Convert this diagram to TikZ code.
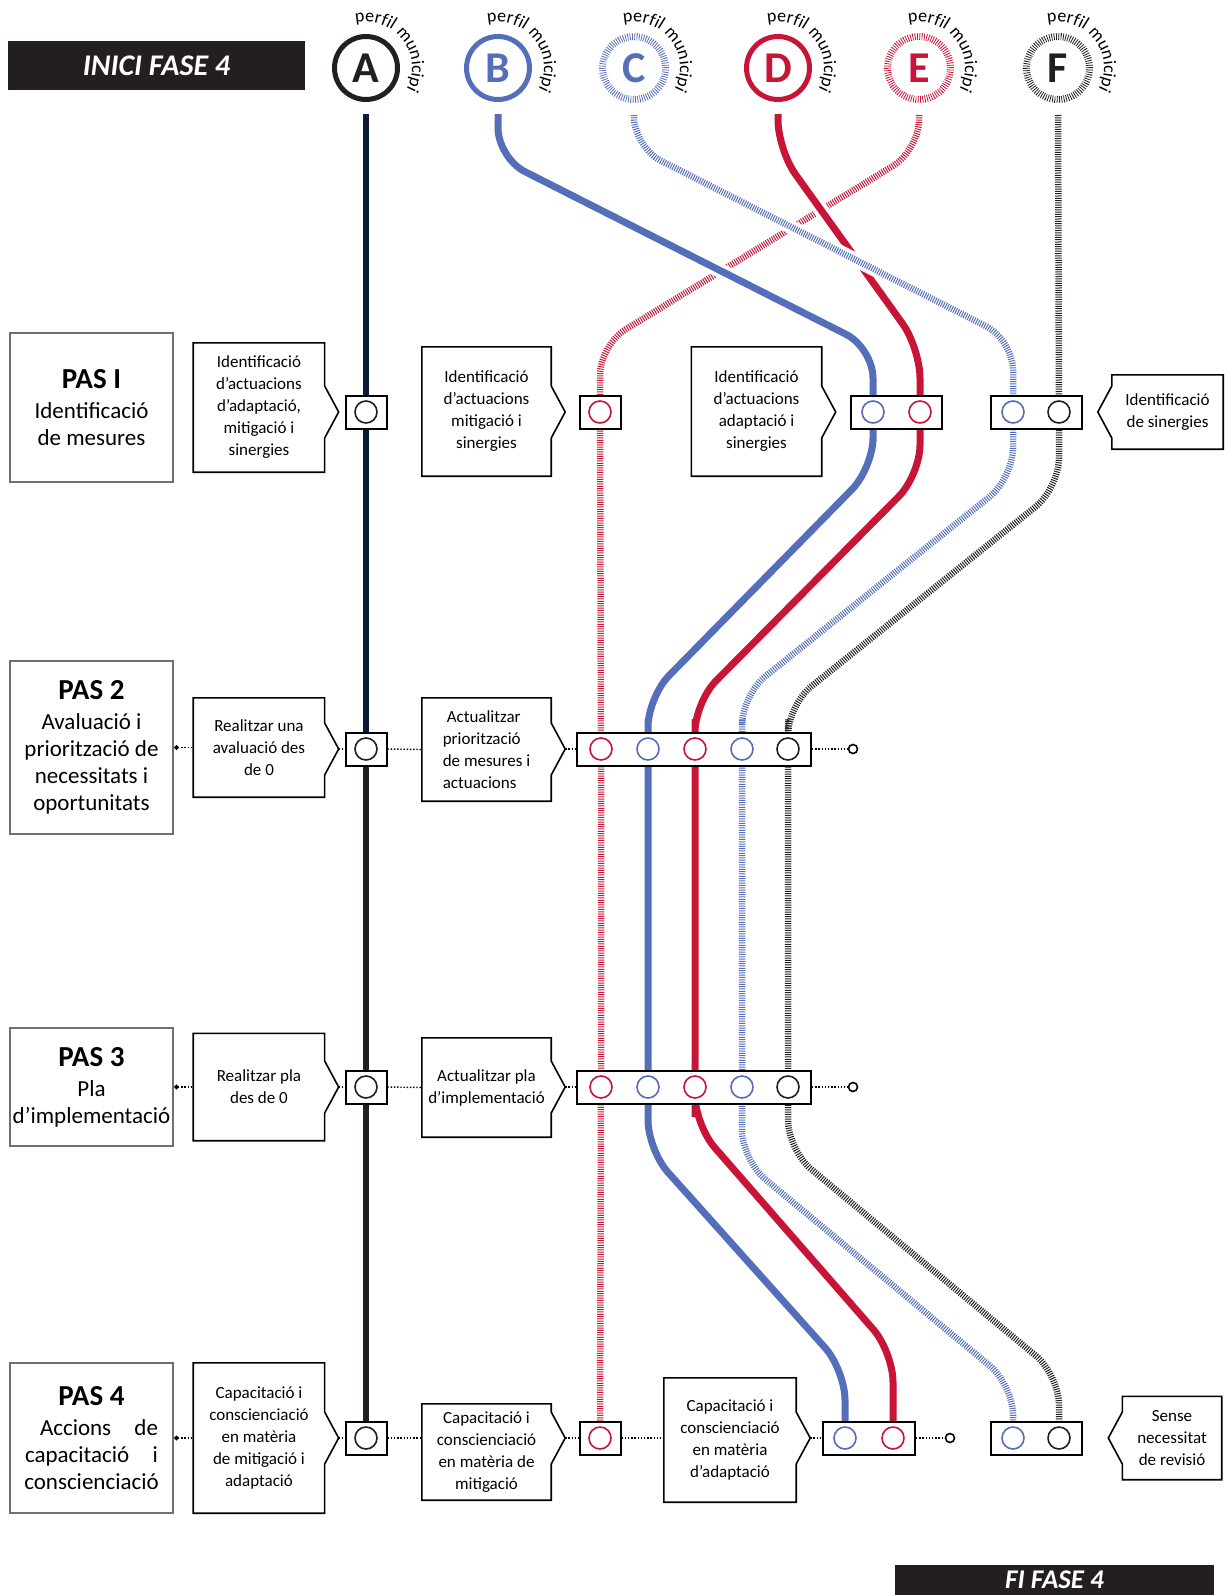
\documentclass[tikz,border=0pt]{standalone}
\usepackage{fontspec}
\setmainfont{Carlito}
\usepackage{tikz}
\usetikzlibrary{arrows.meta, calc, decorations.text, positioning}
\usepackage{xcolor}
\definecolor{Navy}{HTML}{0B1A3A}
\definecolor{Ink}{HTML}{231F20}
\definecolor{ProfBlue}{HTML}{546EBA}
\definecolor{ProfRed}{HTML}{C81437}
\definecolor{FrameGray}{HTML}{707070}
\pgfdeclarelayer{tracks}
\pgfsetlayers{tracks,main}
\tikzset{%
  pas_box/.style={%
    rectangle,%
    draw=FrameGray,%
    line width=2.5pt,%
    fill=white,%
    minimum width=163pt,%
    inner sep=0pt,%
    align=center,%
    font={\fontsize{23}{27}\selectfont},%
  },
  note/.style={%
    rectangle,%
    minimum width=131pt,%
    inner sep=0pt,%
    align=center,%
    font={\fontsize{17}{22}\selectfont},%
  },
  note_frame/.style={%
    draw=black,%
    line width=1.6pt,%
  },
  stop/.style={%
    rectangle,%
    draw=black,%
    line width=2pt,%
    fill=white,%
    minimum height=33pt,%
    inner sep=0pt,%
  },
  ring/.style={%
    circle,%
    draw=#1,%
    line width=1.6pt,%
    minimum size=22pt,%
    inner sep=0pt,%
  },
  badge/.style={%
    circle,%
    draw=#1,%
    text=#1,%
    line width=5pt,%
    minimum size=63pt,%
    inner sep=0pt,%
    font={\fontsize{44}{44}\selectfont\bfseries},%
  },
  hatched_badge/.style={%
    badge=#1,%
    line width=7pt,%
    dash pattern=on 0.8pt off 1.5pt,%
  },
  route/.style={%
    color=#1,%
    line width=7pt,%
    rounded corners=30pt,%
    preaction={draw=white, line width=15pt},%
  },
  hatched_route/.style={%
    color=#1,%
    line width=6.5pt,%
    dash pattern=on 1pt off 1.3pt,%
    rounded corners=30pt,%
    preaction={draw=white, line width=14pt, solid},%
  },
  link/.style={%
    line width=1.4pt,%
    dash pattern=on 1.4pt off 1.8pt,%
  },
  ends/.style={%
    circle,%
    draw=black,%
    line width=1.6pt,%
    minimum size=9pt,%
    inner sep=0pt,%
  },
  banner/.style={%
    fill=Ink,%
    text=white,%
    inner sep=0pt,%
    font={\fontsize{30}{30}\selectfont\bfseries\itshape},%
  },
  profile_arc/.style={%
    decorate,%
    decoration={text along path, text align=center,
      text={|\fontsize{18}{18}\selectfont|perfil municipi}},%
  },
}
% callout frame with a pointer on the row of the given stop
\newcommand{\noteright}[2]{%
  \coordinate (#1-tip) at ($(#1.east |- #2)+(14,0)$);
  \draw [note_frame] (#1.north west) -- (#1.north east)
    -- ($(#1.east |- #2)+(0,-26)$) -- (#1-tip) -- ($(#1.east |- #2)+(0,26)$)
    -- (#1.south east) -- (#1.south west) -- cycle;
}
\newcommand{\noteleft}[2]{%
  \coordinate (#1-tip) at ($(#1.west |- #2)+(-14,0)$);
  \draw [note_frame] (#1.north east) -- (#1.north west)
    -- ($(#1.west |- #2)+(0,-26)$) -- (#1-tip) -- ($(#1.west |- #2)+(0,26)$)
    -- (#1.south west) -- (#1.south east) -- cycle;
}

\begin{document}
\begin{tikzpicture}[x=1pt, y=-1pt]
    \useasboundingbox (0,0) rectangle (1227,1595);

    \node [banner, minimum width=297pt, minimum height=49pt] (Start) at (156.5,65.5) {INICI FASE 4};
    \node [banner, minimum width=319pt, minimum height=30pt,
      font={\fontsize{27}{27}\selectfont\bfseries\itshape}] (Finish) at (1054.5,1580) {FI FASE 4};

    % profiles
    \node [badge=Ink] (pA) at (366,68) {A};
    \node [badge=ProfBlue] (pB) at (498,68) {B};
    \node [hatched_badge=ProfBlue] (pC) at (634,68) {C};
    \node [badge=ProfRed] (pD) at (778,68) {D};
    \node [hatched_badge=ProfRed] (pE) at (919,68) {E};
    \node [hatched_badge=Ink] (pF) at (1058,68) {F};
    \foreach \p in {pA, pB, pC, pD, pE, pF}
      \path [profile_arc] ([shift={(-125:46)}]\p.center)
        arc [start angle=-125, end angle=50, radius=46];

    % steps
    \node [pas_box, minimum height=149pt] (pas1) at (91.5,407.5)
      {{\fontsize{29}{34}\selectfont\bfseries PAS I}\\[3pt]Identificació\\de mesures};
    \node [pas_box, minimum height=173pt] (pas2) at (91.5,747.5)
      {{\fontsize{29}{34}\selectfont\bfseries PAS 2}\\[3pt]Avaluació i\\priorització de\\necessitats i\\oportunitats};
    \node [pas_box, minimum height=118pt] (pas3) at (91.5,1087)
      {{\fontsize{29}{34}\selectfont\bfseries PAS 3}\\[3pt]Pla\\d’implementació};
    \node [pas_box, minimum height=150pt] (pas4) at (91.5,1438)
      {{\fontsize{29}{34}\selectfont\bfseries PAS 4}\\[3pt]%
       \makebox[133pt][r]{\makebox[118pt][s]{Accions de}}\\%
       \makebox[133pt][s]{capacitació i}\\conscienciació};

    % stops
    \node [stop, minimum width=41pt] (stA1) at (366,412) {};
    \node [stop, minimum width=41pt] (stE1) at (600,412) {};
    \node [stop, minimum width=91pt] (stBD1) at (896.5,412) {};
    \node [stop, minimum width=91pt] (stCF1) at (1036,412) {};
    \node [stop, minimum width=41pt] (stA2) at (366,749) {};
    \node [stop, minimum width=234pt] (st2) at (694,749) {};
    \node [stop, minimum width=41pt] (stA3) at (366,1087) {};
    \node [stop, minimum width=234pt] (st3) at (694,1087) {};
    \node [stop, minimum width=41pt] (stA4) at (366,1438) {};
    \node [stop, minimum width=41pt] (stE4) at (600,1438) {};
    \node [stop, minimum width=92pt] (stBD4) at (869,1438) {};
    \node [stop, minimum width=91pt] (stCF4) at (1036,1438) {};

    \foreach \name/\x/\c in {A1/366/Ink, E1/600/ProfRed, B1/873/ProfBlue,
        D1/920/ProfRed, C1/1013/ProfBlue, F1/1059/Ink}
      \node [ring=\c] (\name) at (\x,412) {};
    \foreach \name/\x/\c in {A2/366/Ink, E2/601/ProfRed, B2/648/ProfBlue,
        D2/695/ProfRed, C2/742/ProfBlue, F2/788/Ink}
      \node [ring=\c] (\name) at (\x,749) {};
    \foreach \name/\x/\c in {A3/366/Ink, E3/601/ProfRed, B3/648/ProfBlue,
        D3/695/ProfRed, C3/742/ProfBlue, F3/788/Ink}
      \node [ring=\c] (\name) at (\x,1087) {};
    \foreach \name/\x/\c in {A4/366/Ink, E4/600/ProfRed, B4/845/ProfBlue,
        D4/893/ProfRed, C4/1013/ProfBlue, F4/1059/Ink}
      \node [ring=\c] (\name) at (\x,1438) {};

    \node [ends] (end2) at (853,749) {};
    \node [ends] (end3) at (853,1087) {};
    \node [ends] (end4) at (950,1438) {};

    % notes
    \node [note, minimum height=129pt, right=19pt of pas1] (c1a)
      {Identificació\\d’actuacions\\d’adaptació,\\mitigació i\\sinergies};
    \node [note, minimum width=129pt, minimum height=129pt] (c1b) at (486.5,411.5)
      {Identificació\\d’actuacions\\mitigació i\\sinergies};
    \node [note, minimum width=130pt, minimum height=129pt] (c1c) at (756.5,411.5)
      {Identificació\\d’actuacions\\adaptació i\\sinergies};
    \node [note, minimum width=111pt, minimum height=74pt] (c1d) at (1167.5,412)
      {Identificació\\de sinergies};
    \node [note, minimum height=99pt, right=19pt of pas2] (c2a)
      {Realitzar una\\avaluació des\\de 0};
    \node [note, minimum width=129pt, minimum height=103pt, align=left] (c2b) at (486.5,749.5)
      {\hspace*{4pt}Actualitzar\\priorització\\de mesures i\\actuacions};
    \node [note, minimum height=107pt, right=19pt of pas3] (c3a)
      {Realitzar pla\\des de 0};
    \node [note, minimum width=129pt, minimum height=99pt] (c3b) at (486.5,1087.5)
      {Actualitzar pla\\d’implementació};
    \node [note, minimum height=150pt, right=19pt of pas4] (c4a)
      {Capacitació i\\conscienciació\\en matèria\\de mitigació i\\adaptació};
    \node [note, minimum width=129pt, minimum height=96pt] (c4b) at (486.5,1452)
      {Capacitació i\\conscienciació\\en matèria de\\mitigació};
    \node [note, minimum width=132pt, minimum height=124pt] (c4c) at (730,1440)
      {Capacitació i\\conscienciació\\en matèria\\d’adaptació};
    \node [note, minimum width=99pt, minimum height=83pt] (c4d) at (1172,1438)
      {Sense\\necessitat\\de revisió};

    \noteright{c1a}{stA1}
    \noteright{c1b}{stE1}
    \noteright{c1c}{stBD1}
    \noteleft{c1d}{stCF1}
    \noteright{c2a}{stA2}
    \noteright{c2b}{st2}
    \noteright{c3a}{stA3}
    \noteright{c3b}{st3}
    \noteright{c4a}{stA4}
    \noteright{c4b}{stE4}
    \noteright{c4c}{stBD4}
    \noteleft{c4d}{stCF4}

    % dotted links
    \draw [link, {Circle[length=4.5pt]}-] (pas2.east) -- (c2a.west);
    \draw [link] (c2a-tip) -- (stA2.west);
    \draw [link] (stA2.east) -- (c2b.west);
    \draw [link] (c2b-tip) -- (st2.west);
    \draw [link] (st2.east) -- (end2.west);

    \draw [link, {Circle[length=4.5pt]}-] (pas3.east) -- (c3a.west);
    \draw [link] (c3a-tip) -- (stA3.west);
    \draw [link] (stA3.east) -- (c3b.west);
    \draw [link] (c3b-tip) -- (st3.west);
    \draw [link] (st3.east) -- (end3.west);

    \draw [link, {Circle[length=4.5pt]}-] (pas4.east) -- (c4a.west);
    \draw [link] (c4a-tip) -- (stA4.west);
    \draw [link] (stA4.east) -- (stA4.east -| c4b.west);
    \draw [link] (c4b-tip) -- (stE4.west);
    \draw [link] (stE4.east) -- (stE4.east -| c4c.west);
    \draw [link] (c4c-tip) -- (stBD4.west);
    \draw [link] (stBD4.east) -- (end4.west);

    % profile routes
    \begin{pgfonlayer}{tracks}
      \draw [route=Navy, line width=5.5pt] ($(pA.south)+(0,12)$) -- (A1.center) -- (A2.center);
      \draw [route=Ink, line width=5.5pt] (A2.center) -- (A3.center) -- (A4.center);
      \draw [hatched_route=ProfRed]
        ($(pE.south)+(0,12)$) -- (919,150) -- (600,345)
        -- (E1.center) -- (E2.center) -- (E3.center) -- (E4.center);
      \draw [route=ProfBlue]
        ($(pB.south)+(0,12)$) -- (498,158) -- (873,348) -- (B1.center)
        -- (873,468) -- (648,697) -- (B2.center) -- (B3.center)
        -- (648,1150) -- (845,1370) -- (B4.center);
      \draw [route=ProfRed]
        ($(pD.south)+(0,12)$) -- (778,150) -- (920,348) -- (D1.center)
        -- (920,475) -- (695,702) -- (D2.center) -- (D3.center)
        -- (695,1125) -- (893,1352) -- (D4.center);
      \draw [hatched_route=ProfBlue]
        ($(pC.south)+(0,12)$) -- (634,147) -- (1013,340) -- (C1.center)
        -- (1013,478) -- (742,695) -- (C2.center) -- (C3.center)
        -- (742,1160) -- (1013,1385) -- (C4.center);
      \draw [hatched_route=Ink]
        ($(pF.south)+(0,12)$) -- (F1.center)
        -- (1059,488) -- (788,705) -- (F2.center) -- (F3.center)
        -- (788,1150) -- (1059,1375) -- (F4.center);
    \end{pgfonlayer}
\end{tikzpicture}
\end{document}
